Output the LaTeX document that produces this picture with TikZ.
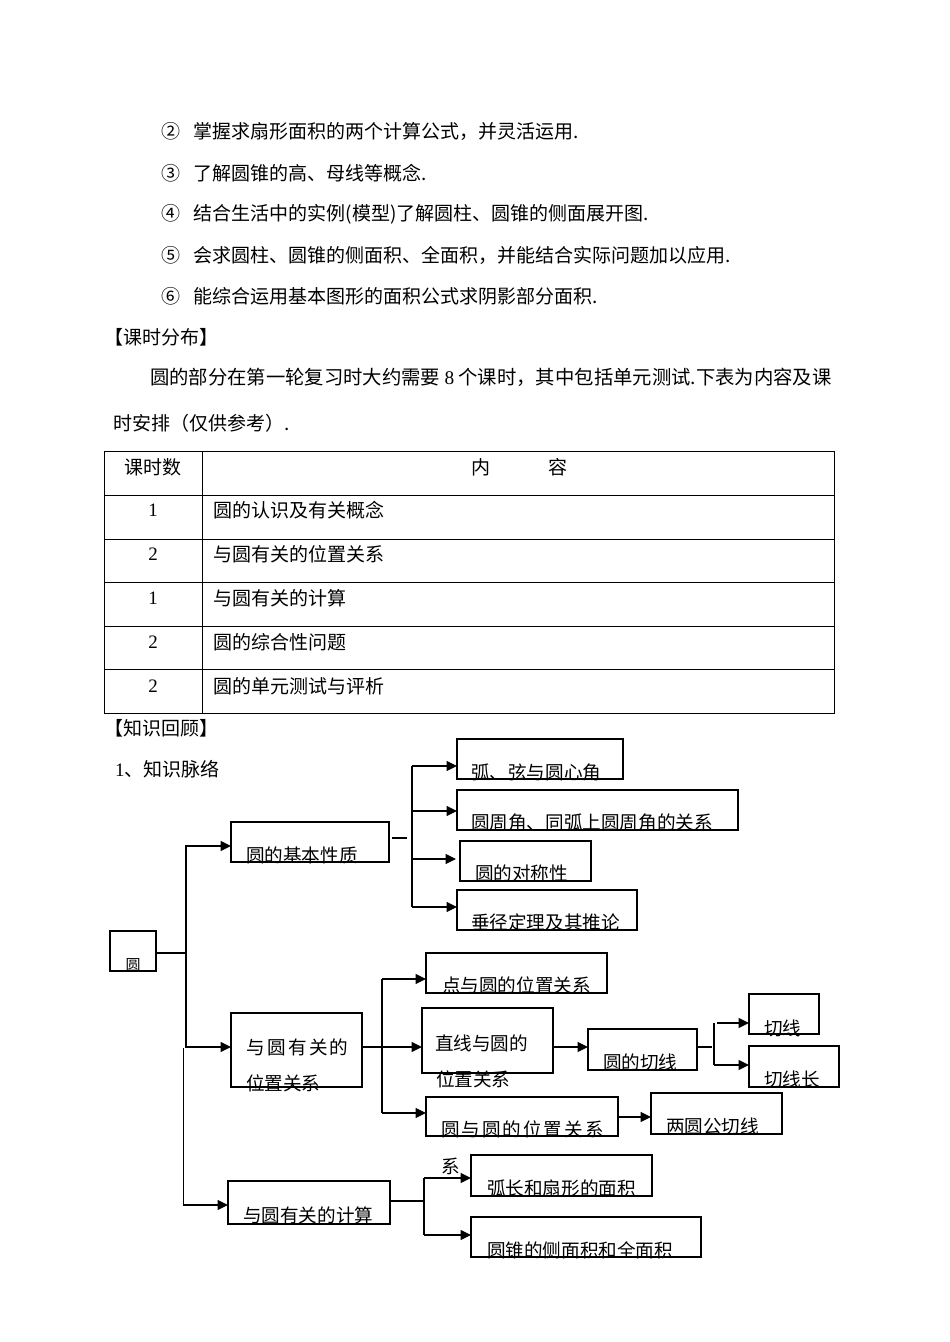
\documentclass[tikz,border=0pt]{standalone}
\usepackage{fontspec}
\setmainfont{Liberation Serif}
\newfontfamily\cjk{Noto Sans CJK SC}
\usetikzlibrary{arrows.meta}
\tikzset{
  bx/.style={draw, line width=1.1pt, inner sep=0pt, outer sep=0pt, anchor=north west},
  lbl/.style={inner sep=0pt, outer sep=0pt, anchor=west, font=\cjk\fontsize{18.6}{22}\selectfont},
  txt/.style={inner sep=0pt, outer sep=0pt, anchor=west, font=\cjk\fontsize{19}{23}\selectfont},
  ctxt/.style={inner sep=0pt, outer sep=0pt, anchor=center, font=\cjk\fontsize{19}{23}\selectfont},
  ln/.style={line width=1.1pt},
  arr/.style={line width=1.1pt, -{Triangle[length=10.5pt,width=10pt]}},
  tl/.style={line width=0.9pt}
}
\newcommand\mkbox[5]{\node[bx, minimum width=#4pt, minimum height=#5pt] (#1) at (#2,#3) {};}
\begin{document}
\begin{tikzpicture}[x=1pt,y=-1pt]
\fill[white] (0,0) rectangle (950,1342);
\useasboundingbox (0,0) rectangle (950,1342);

% ---------- top text ----------
\node[txt] (t2) at (161,131.5) {②\kern14pt 掌握求扇形面积的两个计算公式，并灵活运用.};
\node[txt] (t3) at (161,172.7) {③\kern14pt 了解圆锥的高、母线等概念.};
\node[txt] (t4) at (161,214) {④\kern14pt 结合生活中的实例(模型)了解圆柱、圆锥的侧面展开图.};
\node[txt] (t5) at (161,255.2) {⑤\kern14pt 会求圆柱、圆锥的侧面积、全面积，并能结合实际问题加以应用.};
\node[txt] (t6) at (161,296.5) {⑥\kern14pt 能综合运用基本图形的面积公式求阴影部分面积.};
\node[txt] (ks) at (104,337.5) {【课时分布】};
\node[txt, font=\cjk\fontsize{19.35}{23}\selectfont] (p1t) at (150,377) {圆的部分在第一轮复习时大约需要 {\rmfamily 8} 个课时，其中包括单元测试.下表为内容及课};
\node[txt] (p2t) at (113,423.3) {时安排（仅供参考）.};

% ---------- table ----------
\draw[tl] (104,451) rectangle (834,713);
\draw[tl] (202,451) -- (202,713);
\foreach \yy in {495,539,582.5,626,669.5} {\draw[tl] (104,\yy) -- (834,\yy);}
\node[ctxt] (th1) at (153,467) {课时数};
\node[ctxt] (th2) at (481,467) {内};
\node[ctxt] (th3) at (558,467) {容};
\node[ctxt, font=\rmfamily\fontsize{19}{23}\selectfont] (n1) at (153,510) {1};
\node[ctxt, font=\rmfamily\fontsize{19}{23}\selectfont] (n2) at (153,554) {2};
\node[ctxt, font=\rmfamily\fontsize{19}{23}\selectfont] (n3) at (153,598) {1};
\node[ctxt, font=\rmfamily\fontsize{19}{23}\selectfont] (n4) at (153,642) {2};
\node[ctxt, font=\rmfamily\fontsize{19}{23}\selectfont] (n5) at (153,686) {2};
\node[txt] (r1) at (213,510) {圆的认识及有关概念};
\node[txt] (r2) at (213,554) {与圆有关的位置关系};
\node[txt] (r3) at (213,598) {与圆有关的计算};
\node[txt] (r4) at (213,642) {圆的综合性问题};
\node[txt] (r5) at (213,686) {圆的单元测试与评析};

\node[txt] (zs) at (104,728) {【知识回顾】};
\node[txt] (ml) at (115,769) {{\rmfamily 1}、知识脉络};

% ---------- boxes ----------
\mkbox{yuan}{110}{931}{46}{40}
\mkbox{jb}{231}{822}{158}{40}
\mkbox{h1}{457}{739}{166}{40}
\mkbox{h2}{457}{790}{281}{40}
\mkbox{h3}{460}{841}{131}{40}
\mkbox{h4}{457}{890}{180}{40}
\mkbox{wz}{231}{1013}{131}{74}
\mkbox{d1}{426}{953}{181}{40}
\mkbox{d2}{422}{1008}{131}{65}
\mkbox{d3}{426}{1097}{192}{39}
\mkbox{qx}{588}{1029}{109}{41}
\mkbox{q1}{749}{994}{70}{40}
\mkbox{q2}{749}{1046}{90}{41}
\mkbox{gq}{651}{1093}{131}{41}
\mkbox{js}{228}{1181}{162}{43}
\mkbox{c1}{471}{1155}{181}{41}
\mkbox{c2}{471}{1217}{230}{40}

% ---------- labels ----------
\node[lbl, anchor=center, font=\cjk\fontsize{15}{18}\selectfont] (l-yuan) at (133,965) {圆};
\node[lbl] (l-jb) at (246,855) {圆的基本性质};
\node[lbl] (l-h1) at (471,772) {弧、弦与圆心角};
\node[lbl] (l-h2) at (471,822) {圆周角、同弧上圆周角的关系};
\node[lbl] (l-h3) at (475,873) {圆的对称性};
\node[lbl] (l-h4) at (471,922) {垂径定理及其推论};
\node[lbl] (l-wz1) at (246,1047) {与\kern2.4pt 圆\kern2.4pt 有\kern2.4pt 关\kern2.4pt 的};
\node[lbl] (l-wz2) at (246,1083) {位置关系};
\node[lbl] (l-d1) at (442,985) {点与圆的位置关系};
\node[lbl] (l-d2a) at (435,1043) {直线与圆的};
\node[lbl] (l-d2b) at (436,1079) {位置关系};
\node[lbl] (l-d3) at (441,1129) {圆\kern2pt 与\kern2pt 圆\kern2pt 的\kern2pt 位\kern2pt 置\kern2pt 关\kern2pt 系};
\node[lbl] (l-qx) at (603,1062) {圆的切线};
\node[lbl] (l-q1) at (764,1028) {切线};
\node[lbl] (l-q2) at (764,1079) {切线长};
\node[lbl] (l-gq) at (666,1126) {两圆公切线};
\node[lbl] (l-js) at (243,1215) {与圆有关的计算};
\node[lbl] (l-c1) at (487,1188) {弧长和扇形的面积};
\node[lbl] (l-c2) at (487,1250) {圆锥的侧面积和全面积};
\node[lbl] (l-xi) at (441,1166) {系};

% ---------- connectors ----------
\coordinate (ta) at (186,953);
\coordinate (tb) at (183.5,1048);
\draw[ln] ([yshift=-2pt]yuan.east) -- (ta);
\draw[arr] (ta) |- ([yshift=-4pt]jb.west);
\draw[arr] (ta) |- ([yshift=3pt]wz.west);
\draw[arr] (tb) |- ([yshift=-2.5pt]js.west);

% basic properties
\draw[ln] ([xshift=3pt,yshift=4pt]jb.east) -- ++(15,0);
\coordinate (b1t) at (412,766);
\coordinate (b1b) at (412,907);
\draw[ln] (b1t) -- (b1b);
\draw[arr] (b1t) -- ([yshift=-7pt]h1.west);
\draw[arr] ([yshift=-1pt]h2.west -| b1t) -- ([yshift=-1pt]h2.west);
\draw[arr] ([yshift=2pt]h3.west -| b1t) -- ([xshift=-4pt,yshift=2pt]h3.west);
\draw[arr] (b1b) -- ([yshift=3pt]h4.west);

% positions
\coordinate (b2t) at (382,979);
\coordinate (b2b) at (382,1113);
\draw[arr] ([yshift=3pt]wz.east) -- ([yshift=-6.5pt]d2.west);
\draw[ln] (b2t) -- (b2b);
\draw[arr] (b2t) -- ([yshift=-6pt]d1.west);
\draw[arr] (b2b) -- ([yshift=3.5pt]d3.west);
\draw[arr] ([yshift=-6.5pt]d2.east) -- ([yshift=2.5pt]qx.west);
\coordinate (b3m) at (712,1047);
\coordinate (b3t) at (714,1023);
\coordinate (b3b) at (714,1065);
\draw[ln] ([yshift=2.5pt]qx.east) -- (b3m);
\draw[ln] (b3t) -- (b3b);
\draw[arr] ([xshift=3pt]b3t) -- ([yshift=-9pt]q1.west);
\draw[arr] (b3b) -- ([yshift=1.5pt]q2.west);
\draw[arr] ([yshift=-0.5pt]d3.east) -- ([yshift=-3.5pt]gq.west);

% calculation
\coordinate (b4m) at (424,1201);
\coordinate (b4t) at (424,1178);
\coordinate (b4b) at (424,1235);
\draw[ln] ([yshift=1.5pt]js.east) -- (b4m);
\draw[ln] (b4t) -- (b4b);
\draw[arr] (b4t) -- ([yshift=-2.5pt]c1.west);
\draw[arr] (b4b) -- ([yshift=2pt]c2.west);
\end{tikzpicture}
\end{document}
